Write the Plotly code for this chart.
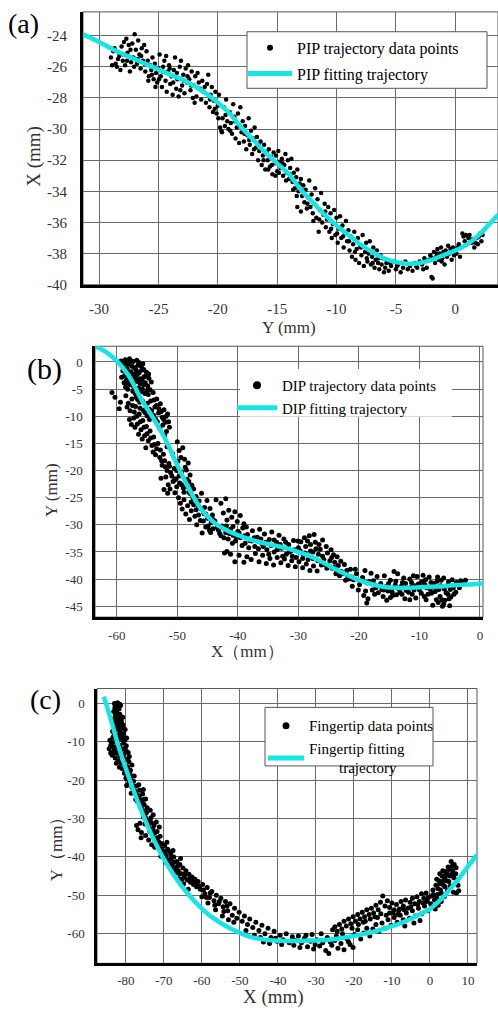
import plotly.graph_objects as go

# ---------------- data: panel (a) PIP ----------------
pip_points = [
(-29.0,-25.4),(-28.8,-25.0),(-28.6,-25.8),(-28.5,-26.0),(-28.3,-25.3),(-28.1,-24.7),(-28.0,-25.6),(-27.9,-24.4),(-27.8,-25.9),(-27.7,-24.2),
(-27.6,-25.1),(-27.5,-24.6),(-27.4,-26.3),(-27.3,-25.7),(-27.2,-24.5),(-27.1,-25.4),(-27.0,-23.9),(-26.9,-24.9),(-26.8,-25.8),(-26.7,-24.3),
(-26.6,-25.2),(-26.5,-26.1),(-26.4,-24.8),(-26.3,-25.6),(-26.2,-24.6),(-26.1,-26.3),(-26.0,-25.0),(-25.9,-25.6),(-25.8,-26.6),(-25.7,-25.9),
(-25.6,-26.2),(-25.5,-25.4),(-25.4,-26.8),(-25.3,-25.8),(-25.2,-26.4),(-25.1,-27.0),(-25.0,-26.1),(-24.9,-25.2),(-24.8,-26.6),(-24.7,-27.3),
(-24.6,-26.0),(-24.5,-25.6),(-24.4,-26.9),(-24.3,-27.6),(-24.2,-26.3),(-24.1,-25.9),(-24.0,-27.1),(-23.9,-26.6),(-23.8,-27.8),(-23.7,-26.2),
(-23.6,-25.4),(-23.5,-27.4),(-23.4,-26.8),(-23.3,-27.9),(-23.2,-26.0),(-23.1,-25.6),(-23.0,-27.2),(-22.9,-26.5),(-22.8,-27.7),(-22.7,-26.1),
(-22.6,-27.0),(-22.5,-25.9),(-22.4,-26.8),(-22.3,-27.5),(-22.2,-26.3),(-22.1,-28.0),
(-22.0,-27.2),(-21.9,-26.6),(-21.8,-27.9),(-21.7,-26.4),(-21.5,-27.4),(-21.4,-28.1),(-21.3,-26.9),(-21.2,-27.6),(-21.0,-28.3),(-20.9,-27.1),
(-20.8,-26.5),(-20.7,-28.6),(-20.6,-27.8),(-20.5,-27.3),(-20.4,-28.9),(-20.3,-28.2),(-20.2,-27.6),(-20.1,-29.0),(-20.0,-28.5),(-19.9,-27.8),
(-19.8,-29.9),(-19.7,-30.1),(-19.6,-29.3),(-19.5,-28.6),(-19.4,-29.8),(-19.3,-28.1),(-19.2,-29.5),(-19.1,-30.0),(-19.0,-28.9),(-18.9,-29.6),
(-18.8,-30.3),(-18.7,-28.4),(-18.6,-29.2),(-18.5,-30.6),(-18.4,-29.9),(-18.3,-29.0),(-18.2,-30.9),(-18.1,-28.6),(-18.0,-30.2),(-17.9,-29.5),
(-17.8,-30.8),(-17.7,-29.8),(-17.6,-31.3),(-17.5,-30.4),(-17.4,-29.3),(-17.3,-31.0),(-17.2,-30.1),(-17.1,-31.6),(-17.0,-30.6),(-16.9,-29.9),
(-16.8,-31.2),(-16.7,-30.5),(-16.6,-32.0),(-16.5,-31.4),(-16.4,-30.8),(-16.3,-32.3),(-16.2,-31.7),(-16.1,-31.0),(-16.0,-32.6),(-15.9,-31.5),
(-15.8,-32.0),(-15.7,-31.3),(-15.6,-32.4),(-15.5,-31.8),(-15.4,-32.9),(-15.3,-31.5),(-15.2,-32.2),(-15.1,-31.7),(-15.0,-32.7),(-14.9,-31.4),
(-14.8,-32.1),(-14.7,-32.5),(-14.6,-31.9),(-14.5,-33.0),(-14.4,-32.3),(-14.3,-31.6),(-14.2,-32.8),(-14.1,-32.0),(-14.0,-33.2),(-13.9,-32.5),
(-13.8,-31.9),(-13.7,-33.4),(-13.6,-32.8),(-13.5,-33.8),(-13.4,-33.1),(-13.3,-32.6),(-13.2,-34.0),(-13.1,-33.5),(-13.0,-33.2),(-12.9,-34.3),
(-12.8,-33.6),(-12.7,-34.7),(-12.6,-33.9),(-12.5,-35.1),(-12.4,-34.4),(-12.3,-33.3),(-12.2,-35.0),(-12.1,-34.2),(-12.0,-35.4),(-11.9,-34.8),
(-11.8,-33.8),(-11.7,-35.7),(-11.6,-34.5),(-11.5,-36.6),(-11.4,-35.2),(-11.3,-34.1),(-11.2,-36.0),(-11.1,-35.5),(-11.0,-34.8),(-10.9,-36.3),
(-13.3,-35.0),(-13.0,-35.3),
(-10.8,-35.8),(-10.7,-35.0),(-10.6,-36.6),(-10.5,-35.4),(-10.4,-37.0),(-10.3,-36.1),(-10.2,-35.2),(-10.1,-36.8),(-10.0,-35.7),(-9.9,-37.3),
(-9.8,-36.4),(-9.7,-35.6),(-9.6,-37.0),(-9.5,-36.2),(-9.4,-37.6),(-9.3,-36.7),(-9.2,-35.9),(-9.1,-37.2),(-9.0,-36.5),
(-8.9,-37.8),(-8.8,-36.9),(-8.7,-38.2),(-8.6,-37.4),(-8.5,-36.6),(-8.4,-38.4),(-8.3,-37.7),(-8.2,-37.0),(-8.1,-38.6),(-8.0,-37.5),
(-7.9,-38.1),(-7.8,-36.8),(-7.7,-38.8),(-7.6,-37.9),(-7.5,-37.3),(-7.4,-38.5),(-7.3,-38.0),(-7.2,-37.2),(-7.1,-38.7),(-7.0,-38.2),
(-6.9,-37.6),(-6.8,-38.9),(-6.7,-38.4),(-6.6,-37.8),(-6.5,-38.6),(-6.4,-39.0),(-6.3,-38.1),(-6.2,-38.7),(-6.1,-38.3),(-6.0,-39.2),
(-5.8,-38.6),(-5.6,-39.1),(-5.4,-38.8),(-5.2,-38.5),(-5.0,-39.0),(-4.8,-38.7),(-4.6,-39.2),(-4.4,-38.9),(-4.2,-38.5),(-4.0,-39.0),
(-3.8,-38.8),(-3.6,-39.1),(-3.4,-38.6),(-3.2,-38.9),(-3.0,-38.5),(-2.8,-38.7),(-2.6,-38.3),(-2.4,-38.9),(-2.2,-38.4),(-2.0,-39.5),(-1.9,-39.6),
(-2.1,-38.1),(-1.8,-37.9),(-1.7,-38.6),(-1.6,-38.2),(-1.5,-37.7),(-1.4,-38.4),(-1.3,-38.0),(-1.2,-37.6),(-1.1,-38.3),(-1.0,-37.9),
(-0.9,-38.7),(-0.8,-37.8),(-0.7,-38.2),(-0.6,-37.5),(-0.5,-38.0),(-0.4,-37.7),(-0.3,-38.4),(-0.2,-37.6),(-0.1,-38.1),(0.0,-37.8),(0.2,-37.6),(0.4,-38.2),
(0.6,-36.7),(0.7,-36.9),(0.8,-37.2),(0.9,-36.8),(1.0,-37.4),(1.1,-37.0),(1.2,-36.8),(1.4,-37.3),(1.5,-37.1),(1.6,-37.6),
(1.8,-37.0),(1.9,-37.4),(2.0,-36.9),(2.1,-36.7),(2.2,-37.2),
(-28.9,-25.9),(-28.7,-24.8),(-28.4,-25.5),(-28.2,-26.2),(-27.95,-25.2),(-27.65,-25.6),(-27.35,-24.9),(-27.05,-26.0),(-26.75,-25.5),(-26.45,-25.3),
(-26.15,-25.8),(-25.85,-26.9),(-25.55,-26.5),(-25.25,-27.3),(-24.95,-26.8),(-24.65,-26.3),(-24.35,-25.3),(-24.05,-26.1),(-23.75,-27.0),(-23.45,-26.4),
(-23.15,-27.5),(-22.85,-26.9),(-22.55,-26.6),(-22.25,-27.2),(-21.95,-28.3),(-21.6,-27.0),(-21.1,-27.3),(-20.65,-28.1),(-20.25,-28.7),(-19.95,-29.3),
(-19.65,-30.2),(-19.35,-29.1),(-18.95,-30.1),(-18.55,-29.5),(-18.15,-29.8),(-17.75,-30.3),(-17.35,-30.7),(-16.95,-31.3),(-16.55,-31.0),(-16.15,-32.0),
(-15.75,-32.6),(-15.45,-32.3),(-15.15,-33.0),(-14.85,-32.8),(-14.55,-32.2),(-14.25,-33.3),(-13.95,-32.9),(-13.65,-33.9),(-13.35,-34.3),(-12.95,-33.9),
(-12.45,-34.8),(-11.95,-35.9),(-11.45,-35.8),(-10.95,-35.3),(-10.45,-36.4),(-9.95,-36.7),(-9.45,-36.9),(-8.95,-37.2),(-8.45,-37.9),(-7.95,-37.6),
(-7.45,-38.3),(-6.95,-38.6),(-6.45,-38.3),(-5.9,-38.9),(-5.5,-38.6),(-4.9,-38.8),(-4.5,-38.6),(-3.9,-38.7),(-3.3,-38.8),(-2.7,-39.0),
(-1.95,-38.3),(-1.55,-38.0),(-1.15,-38.5),(-0.75,-38.0),(-0.35,-37.9),(0.1,-38.0),(0.3,-37.4),(1.3,-37.1),(1.7,-37.3),(2.3,-36.8),
]
pip_fit_x = [-31.35,-30,-28.5,-27,-25.5,-24,-22.5,-21,-20,-19,-18,-17,-16,-15,-14,-13,-12,-11,-10,-9,-8,-7,-6,-5,-4,-3,-2,-1,0,1,2,3,3.6]
pip_fit_y = [-23.9,-24.4,-25.0,-25.5,-26.0,-26.5,-27.0,-27.7,-28.3,-29.0,-29.9,-30.7,-31.5,-32.2,-32.9,-33.9,-34.7,-35.5,-36.2,-36.8,-37.4,-37.9,-38.3,-38.55,-38.65,-38.6,-38.4,-38.1,-37.8,-37.4,-36.8,-36.0,-35.5]

# ---------------- data: panel (b) DIP ----------------
dip_points = [
(-59.3,0.2),(-58.9,-0.5),(-58.6,0.4),(-58.3,-1.2),(-58.1,-0.2),(-57.9,0.6),(-57.7,-1.8),(-57.5,-0.8),(-57.3,0.1),(-57.1,-2.4),
(-56.9,-1.3),(-56.7,0.3),(-56.5,-0.6),(-56.3,-2.0),(-56.1,-3.1),(-55.9,-1.5),(-55.7,-0.3),(-55.5,-2.7),(-55.3,-3.8),(-55.1,-1.9),
(-54.9,-4.4),(-54.7,-3.0),(-54.5,-5.1),(-59.0,-1.6),(-58.7,-2.5),(-58.4,-3.3),(-58.0,-2.9),(-57.6,-3.9),(-57.2,-4.6),(-56.8,-3.6),
(-56.4,-4.8),(-56.0,-5.5),(-55.6,-4.2),(-57.8,-4.2),(-58.2,-5.0),(-58.8,-3.8),(-59.2,-2.8),(-56.6,-2.3),(-55.8,-3.3),(-54.3,-3.7),
(-60.8,-5.6),(-60.3,-6.5),(-59.6,-8.6),(-59.4,-7.4),
(-54.8,-6.0),(-54.4,-7.2),(-54.0,-5.6),(-53.7,-8.3),(-53.4,-6.8),(-53.1,-9.4),(-52.8,-7.7),(-52.5,-10.2),(-52.2,-8.8),(-51.9,-11.1),
(-51.6,-9.6),(-53.9,-9.8),(-53.3,-11.0),(-52.9,-12.2),(-52.4,-11.6),(-51.8,-12.8),(-51.3,-12.0),(-54.6,-8.7),(-53.6,-10.5),(-52.1,-13.5),
(-58.5,-6.2),(-58.1,-7.6),(-57.8,-9.0),(-57.5,-6.8),(-57.2,-10.3),(-56.9,-8.2),(-56.6,-11.4),(-56.3,-9.6),(-56.0,-12.5),(-55.7,-10.8),
(-55.4,-13.6),(-55.1,-11.9),(-54.8,-14.5),(-54.5,-12.7),(-54.2,-15.4),(-53.9,-13.8),(-57.4,-8.0),(-56.8,-6.5),(-56.2,-7.4),(-55.6,-8.9),
(-55.0,-9.9),(-54.6,-10.6),(-57.0,-12.0),(-56.4,-13.3),(-55.8,-14.2),(-55.2,-15.8),(-54.0,-16.6),(-53.6,-17.1),(-53.2,-15.0),(-52.8,-16.2),
(-52.6,-18.2),(-52.3,-17.0),(-52.0,-19.3),(-51.7,-15.6),(-51.4,-18.7),(-51.1,-20.4),(-50.8,-16.9),(-50.5,-19.6),(-50.2,-21.5),(-49.9,-18.3),
(-49.6,-22.3),(-49.3,-20.2),(-49.0,-23.2),(-48.7,-19.4),(-48.4,-21.6),(-48.1,-24.0),(-50.0,-14.7),(-49.7,-16.3),(-49.4,-17.6),(-49.1,-15.8),
(-48.8,-17.9),(-48.5,-19.9),(-48.2,-18.6),(-47.9,-20.8),(-47.6,-22.7),(-51.9,-21.2),(-51.5,-22.6),(-51.2,-23.4),(-50.7,-22.0),(-50.4,-24.1),
(-50.1,-23.0),(-49.8,-25.0),(-51.6,-24.2),(-52.2,-23.5),(-52.7,-21.4),
(-49.5,-26.0),(-49.2,-27.1),(-48.9,-25.4),(-48.6,-28.0),(-48.3,-26.5),(-48.0,-29.0),(-47.7,-27.4),(-47.4,-25.0),(-47.1,-28.4),(-46.8,-30.0),
(-46.5,-26.6),(-46.2,-29.2),(-45.9,-31.5),(-45.6,-27.9),(-45.3,-30.4),(-45.0,-28.8),(-44.7,-31.0),(-44.4,-29.6),(-44.1,-30.7),(-47.8,-24.3),
(-47.3,-23.4),(-46.9,-24.8),(-46.4,-25.6),(-46.0,-24.2),(-45.5,-26.8),(-45.1,-25.5),(-44.6,-27.0),(-44.2,-28.2),(-43.8,-29.3),(-43.4,-30.5),
(-43.0,-31.6),(-42.6,-30.2),
(-43.6,-25.4),(-42.8,-26.0),(-42.0,-25.2),(-41.5,-27.3),(-41.0,-28.6),(-40.5,-27.6),(-40.1,-29.4),(-39.6,-28.3),(-39.0,-29.8),(-38.6,-30.4),
(-42.4,-27.8),(-41.8,-29.1),(-40.8,-30.3),
(-41.8,-34.9),(-41.2,-35.4),(-40.5,-36.8),(-39.8,-35.6),(-39.0,-36.9),(-42.2,-35.2),
(-42.0,-31.4),(-41.6,-32.6),(-41.2,-30.8),(-40.8,-31.9),(-40.4,-33.0),(-40.0,-31.2),(-39.6,-32.4),(-39.2,-30.6),(-38.8,-33.4),(-38.4,-31.8),
(-38.0,-32.9),(-37.6,-31.1),(-37.2,-34.0),(-36.8,-32.3),(-36.4,-30.8),(-36.0,-33.5),(-35.6,-31.7),(-35.2,-34.6),(-34.8,-32.7),(-34.4,-31.3),
(-34.0,-35.0),(-33.6,-33.2),(-33.2,-31.9),(-32.8,-34.3),(-32.4,-32.6),(-32.0,-35.4),(-31.6,-33.6),(-31.2,-34.8),(-30.8,-32.9),(-30.4,-36.0),
(-30.0,-34.2),(-29.6,-33.1),(-29.2,-35.5),(-28.8,-34.0),(-28.4,-36.4),(-28.0,-33.6),(-27.6,-35.0),(-27.2,-33.2),(-26.8,-36.6),(-26.4,-34.5),
(-26.0,-35.8),(-25.6,-37.3),(-25.2,-35.2),(-24.8,-36.6),(-24.4,-38.0),(-24.0,-36.9),
(-38.5,-35.9),(-37.8,-36.4),(-37.1,-35.3),(-36.5,-36.8),(-35.9,-35.6),(-35.3,-37.1),(-34.7,-36.2),(-34.1,-37.4),(-33.5,-36.0),(-32.9,-37.0),
(-32.3,-36.3),(-31.7,-37.5),(-31.1,-36.6),(-30.5,-37.7),(-29.9,-36.8),(-29.3,-37.9),(-28.7,-37.2),(-28.1,-38.4),(-27.5,-37.6),(-26.9,-38.5),
(-29.0,-32.4),(-28.2,-32.0),(-27.4,-31.8),(-26.6,-33.6),(-26.0,-32.8),(-25.4,-34.0),(-24.6,-34.6),(-24.2,-35.5),(-23.6,-35.9),(-23.0,-36.7),
(-23.4,-37.5),(-22.9,-38.6),(-22.4,-37.3),(-21.9,-39.4),(-21.4,-38.2),(-20.9,-40.1),(-20.4,-39.0),(-19.9,-41.0),(-19.4,-39.7),(-18.9,-42.2),
(-18.5,-43.6),(-18.3,-40.5),(-22.2,-40.2),(-21.1,-41.3),(-20.1,-42.0),(-19.2,-43.0),(-18.7,-44.4),(-23.8,-39.0),(-20.6,-38.2),(-19.0,-38.4),(-18.0,-38.9),
(-17.6,-40.3),(-17.2,-41.6),(-16.8,-42.5),(-16.4,-40.8),(-16.0,-43.2),(-15.6,-41.4),(-15.2,-42.2),(-14.8,-40.2),(-14.4,-43.0),(-14.0,-41.1),
(-13.6,-39.0),(-13.2,-42.4),(-12.8,-40.6),(-12.4,-43.6),(-12.0,-41.7),(-11.6,-40.0),(-11.2,-42.8),(-10.8,-41.2),(-10.4,-39.5),(-10.0,-42.0),
(-9.6,-40.5),(-9.2,-43.2),(-8.8,-41.6),(-8.4,-39.6),(-8.0,-42.6),(-7.6,-40.8),(-7.2,-43.8),(-6.8,-41.9),(-6.4,-40.2),(-6.0,-44.6),
(-5.6,-42.5),(-5.2,-40.5),(-4.8,-43.3),(-4.4,-41.6),(-4.0,-42.4),(-3.6,-41.0),(-3.2,-40.3),(-2.6,-40.6),
(-17.0,-39.5),(-16.2,-41.9),(-15.4,-43.9),(-14.6,-41.8),(-13.8,-42.9),(-13.0,-41.3),(-12.2,-42.1),(-11.4,-41.5),(-10.6,-43.5),(-9.8,-41.3),
(-9.0,-40.1),(-8.2,-41.9),(-7.4,-42.3),(-6.6,-43.2),(-6.2,-45.0),(-5.8,-43.9),(-5.4,-41.2),(-5.0,-44.9),(-4.6,-40.1),(-7.8,-44.8),
(-6.9,-44.3),(-12.6,-39.8),(-11.0,-39.4),(-9.4,-39.3),(-7.0,-39.6),(-6.0,-39.8),(-15.8,-39.4),(-14.2,-38.6),(-18.6,-40.7),(-17.8,-42.0),
(-58.8,0.1),(-58.4,-0.3),(-57.95,-0.4),(-57.55,0.2),(-57.15,-1.0),(-56.75,-1.6),(-56.35,-0.1),(-55.95,-0.8),(-55.55,-1.4),(-55.15,-2.6),
(-54.75,-2.2),(-57.35,-2.2),(-56.95,-2.9),(-56.55,-3.3),(-56.15,-4.0),(-55.75,-5.0),(-55.35,-5.8),(-54.95,-5.2),(-57.75,-3.0),(-58.15,-3.9),
(-58.55,-4.6),(-57.35,-5.4),(-56.95,-5.8),(-56.55,-6.9),(-56.15,-8.5),(-55.75,-7.2),(-55.35,-9.3),(-54.95,-7.6),(-54.25,-9.0),(-53.85,-7.0),
(-53.45,-8.0),(-53.05,-8.6),(-52.65,-9.1),(-52.25,-10.6),(-51.85,-10.0),(-51.45,-11.0),
(-58.3,-8.3),(-57.9,-10.6),(-57.6,-11.5),(-57.1,-9.2),(-56.7,-10.0),(-56.1,-11.0),(-55.5,-12.0),(-55.0,-13.2),(-54.4,-14.0),(-53.8,-15.2),
(-53.4,-16.0),(-52.9,-17.6),(-52.5,-19.0),(-52.1,-18.2),(-51.7,-20.0),(-51.3,-19.2),(-50.9,-21.0),(-50.5,-21.8),(-50.1,-20.0),(-49.7,-21.0),
(-49.3,-22.6),(-48.9,-24.0),(-48.5,-23.0),(-48.1,-22.0),(-47.7,-25.8),(-47.3,-26.3),(-46.9,-27.2),(-46.5,-28.2),(-46.1,-27.0),(-45.7,-29.3),
(-45.3,-28.0),(-44.9,-30.2),(-44.5,-31.4),(-44.1,-29.0),
(-43.2,-31.0),(-42.8,-32.0),(-42.3,-32.4),(-41.9,-30.2),(-41.4,-31.6),(-40.9,-33.4),(-40.3,-32.2),(-39.8,-31.5),(-39.3,-33.8),(-38.9,-32.0),
(-38.2,-34.2),(-37.7,-33.0),(-37.3,-32.4),(-36.6,-34.4),(-36.2,-32.6),(-35.8,-34.0),(-35.4,-33.2),(-34.9,-35.4),(-34.5,-33.8),(-34.0,-32.8),
(-33.5,-34.6),(-33.0,-33.6),(-32.6,-35.8),(-32.1,-33.2),(-31.5,-35.0),(-31.0,-35.8),(-30.6,-34.6),(-30.1,-33.0),(-29.7,-34.8),(-29.3,-36.2),
(-28.9,-35.2),(-28.5,-33.0),(-28.0,-34.8),(-27.6,-36.2),(-27.1,-34.4),(-26.7,-35.4),(-26.2,-37.4),(-25.8,-36.4),(-25.3,-38.0),(-24.9,-37.6),
(-24.5,-36.0),(-24.1,-37.8),(-23.7,-38.4),(-23.2,-39.4),(-22.7,-39.0),(-22.0,-38.4),(-21.6,-40.0),(-21.2,-39.6),
(-17.4,-42.8),(-16.6,-41.2),(-15.9,-42.0),(-15.1,-40.8),(-14.5,-42.4),(-13.9,-40.4),(-13.4,-41.8),(-12.9,-42.8),(-12.3,-40.8),(-11.8,-42.4),
(-11.3,-40.6),(-10.9,-42.0),(-10.2,-40.9),(-9.7,-42.6),(-9.1,-41.0),(-8.6,-42.8),(-8.1,-40.6),(-7.5,-41.4),(-7.1,-40.4),(-6.5,-41.2),
(-5.9,-41.8),(-5.3,-42.8),(-4.9,-41.9),(-4.3,-42.8),(-3.9,-40.6),(-3.4,-41.6),(-6.3,-43.8),(-5.1,-43.6),(-8.9,-43.8),(-11.6,-43.8),
(-14.8,-43.4),(-2.4,-40.2),
]
dip_fit_x = [-63.6,-62,-60,-58,-56,-54,-52,-50,-48,-46,-44,-42,-40,-38,-36,-34,-32,-30,-28,-26,-24,-22,-20,-18,-16,-14,-12,-10,-8,-6,-4,-2,0.5]
dip_fit_y = [2.9,2.0,0.2,-2.6,-6.8,-10.3,-14.2,-19.0,-23.5,-27.2,-29.5,-30.9,-31.9,-32.7,-33.3,-33.8,-34.3,-35.0,-35.8,-36.9,-38.1,-39.2,-40.2,-40.9,-41.4,-41.6,-41.6,-41.5,-41.4,-41.3,-41.1,-41.0,-40.8]

# ---------------- data: panel (c) fingertip ----------------
tip_points = [
(-83.0,0.0),(-82.6,-0.8),(-82.2,0.2),(-81.8,-1.4),(-81.4,-0.5),(-83.2,-2.1),(-82.8,-3.0),(-82.4,-2.4),(-82.0,-3.8),(-81.6,-2.8),
(-81.2,-4.5),(-80.8,-3.6),(-83.4,-5.2),(-83.0,-6.0),(-82.6,-5.5),(-82.2,-6.8),(-81.8,-5.9),(-81.4,-7.4),(-81.0,-6.3),(-80.6,-7.9),
(-80.2,-6.8),(-84.2,-9.6),(-83.8,-10.4),(-83.4,-8.8),(-83.0,-9.9),(-82.6,-11.3),(-82.2,-8.4),(-81.8,-10.8),(-81.4,-9.3),(-81.0,-12.0),
(-80.6,-10.2),(-80.2,-11.6),(-79.8,-9.0),(-79.4,-12.8),(-84.4,-11.8),(-84.0,-12.9),(-83.6,-13.5),(-83.2,-12.4),(-82.8,-14.2),(-82.4,-13.0),
(-82.0,-15.0),(-81.6,-13.8),(-81.2,-15.5),(-80.8,-14.2),(-80.4,-16.0),(-80.0,-14.6),(-79.6,-16.5),(-79.2,-15.2),(-78.8,-17.4),(-78.4,-16.0),
(-82.9,-1.2),(-81.5,-3.3),
(-80.4,-18.2),(-80.0,-19.4),(-79.6,-18.0),(-79.2,-20.6),(-78.8,-19.2),(-78.4,-21.8),(-78.0,-20.3),(-77.6,-22.9),(-77.2,-21.5),(-76.8,-24.0),
(-76.4,-22.6),(-76.0,-25.2),(-75.6,-23.6),(-75.2,-26.3),(-74.8,-24.9),(-74.4,-27.2),(-79.8,-21.4),(-78.6,-23.4),(-77.4,-25.0),(-76.2,-27.0),
(-75.0,-28.2),(-77.8,-18.9),(-76.6,-21.2),(-75.4,-22.4),
(-77.2,-31.8),(-76.8,-32.9),(-76.3,-31.2),(-75.9,-33.6),(-75.4,-29.6),(-75.0,-31.4),(-74.6,-28.5),(-74.2,-30.6),(-73.8,-32.4),(-73.4,-29.8),
(-73.0,-34.0),(-72.6,-31.8),(-72.2,-35.2),(-71.8,-33.4),(-71.4,-36.0),(-71.0,-34.6),(-74.8,-34.4),(-74.0,-35.6),(-73.2,-36.8),(-72.4,-37.5),
(-76.0,-35.0),(-73.6,-27.8),(-72.8,-29.0),(-72.0,-30.9),(-71.2,-32.2),
(-70.6,-36.5),(-70.2,-38.4),(-69.8,-37.0),(-69.4,-39.6),(-69.0,-38.0),(-68.6,-40.8),(-68.2,-39.2),(-67.8,-41.8),(-67.4,-40.0),(-67.0,-42.8),
(-66.6,-41.2),(-66.2,-43.6),(-65.8,-42.0),(-65.4,-44.4),(-65.0,-42.9),(-64.6,-45.2),(-64.2,-43.6),(-63.8,-46.0),(-63.4,-44.5),(-63.0,-46.6),
(-62.6,-45.2),(-62.2,-47.2),(-61.8,-45.8),(-61.4,-47.8),(-70.8,-39.8),(-69.6,-41.4),(-68.4,-42.6),(-67.2,-44.4),(-66.0,-45.6),(-64.8,-47.0),
(-63.6,-48.4),(-69.2,-36.2),(-67.6,-38.3),(-65.6,-40.4),
(-61.0,-46.4),(-60.4,-48.4),(-59.8,-47.2),(-59.2,-49.6),(-58.6,-48.0),(-58.0,-50.6),(-57.4,-49.0),(-56.8,-51.4),(-56.2,-50.0),(-55.6,-52.2),
(-55.0,-50.8),(-54.4,-53.0),(-53.8,-51.6),(-53.2,-54.0),(-52.6,-52.2),(-52.0,-55.2),(-51.4,-53.4),(-50.8,-56.0),(-50.2,-54.4),(-60.0,-50.4),
(-58.4,-52.0),(-56.4,-53.8),(-54.6,-55.4),(-53.0,-56.4),(-51.6,-57.0),
(-49.4,-56.8),(-48.8,-55.4),(-48.0,-57.6),(-47.4,-56.2),(-46.6,-58.4),(-45.8,-57.0),(-45.0,-59.2),(-44.2,-57.8),(-43.4,-60.0),(-42.6,-58.6),
(-41.8,-61.0),(-41.0,-59.4),(-40.2,-62.0),(-39.4,-60.4),(-38.6,-61.6),(-37.8,-60.0),(-37.0,-62.4),(-43.8,-62.2),(-42.2,-62.6),(-40.6,-61.2),
(-39.0,-62.8),(-46.2,-60.4),(-44.6,-61.0),(-48.4,-59.2),
(-36.2,-60.8),(-35.4,-61.8),(-34.6,-60.6),(-33.8,-62.4),(-33.0,-61.2),(-32.2,-63.4),(-31.4,-62.0),(-30.6,-64.0),(-29.8,-61.6),(-29.0,-63.2),
(-28.2,-62.4),(-27.4,-64.4),(-26.6,-65.2),(-25.8,-63.0),(-25.0,-61.8),(-24.2,-63.8),(-23.4,-62.6),(-22.6,-64.2),(-21.8,-61.4),(-21.0,-62.8),
(-20.2,-63.6),(-35.8,-63.0),(-34.2,-63.6),(-32.6,-60.4),(-31.0,-60.2),(-28.6,-60.0),(-27.0,-61.0),(-30.2,-62.8),(-26.2,-62.2),(-24.6,-60.6),(-23.0,-60.0),
(-25.6,-59.0),(-25.0,-58.2),(-24.4,-59.4),(-23.8,-57.6),(-23.2,-58.8),(-22.6,-56.8),(-22.0,-58.0),(-21.4,-56.2),(-20.8,-57.4),(-20.2,-55.6),
(-19.6,-56.8),(-19.0,-55.0),(-18.4,-56.2),(-17.8,-54.4),(-17.2,-55.6),(-16.6,-53.8),(-16.0,-55.0),(-15.4,-53.4),(-14.8,-54.6),(-14.2,-52.6),
(-13.6,-53.8),(-13.0,-51.8),(-12.4,-50.2),(-11.8,-52.8),(-11.2,-51.4),(-10.6,-53.2),(-10.0,-52.0),(-9.4,-53.8),(-8.8,-52.4),(-8.2,-54.0),
(-7.6,-51.6),(-7.0,-52.8),(-6.4,-51.2),(-5.8,-53.4),(-5.2,-51.8),(-4.6,-50.8),(-4.0,-52.2),(-3.4,-50.4),(-2.8,-51.6),(-2.2,-49.6),
(-1.6,-50.8),(-1.0,-49.4),(-0.4,-50.6),
(-19.8,-60.2),(-19.0,-59.0),(-18.2,-61.4),(-17.4,-59.8),(-16.6,-58.6),(-15.8,-60.6),(-15.0,-58.8),(-14.2,-57.6),(-13.4,-59.4),(-12.6,-57.2),
(-11.8,-58.6),(-11.0,-56.4),(-10.2,-57.8),(-9.4,-55.8),(-8.6,-57.0),(-7.8,-55.2),(-7.0,-56.4),(-6.2,-54.6),(-5.4,-56.0),(-4.6,-54.0),
(-3.8,-55.4),(-3.0,-53.4),(-2.2,-54.8),(-1.4,-52.8),(-0.6,-54.0),(0.2,-52.2),(-17.0,-56.8),(-13.8,-55.8),(-10.6,-54.6),(-8.0,-53.6),
(-6.6,-58.0),(-4.2,-57.2),(-2.6,-56.6),(-21.4,-62.2),(-22.8,-61.0),
(0.4,-50.2),(0.8,-48.6),(1.2,-51.2),(1.6,-47.4),(2.0,-49.8),(2.4,-46.2),(2.8,-48.6),(3.2,-45.0),(3.6,-47.4),(4.0,-43.8),
(4.4,-46.2),(4.8,-42.6),(5.2,-45.0),(5.6,-41.2),(6.0,-43.6),(6.4,-42.0),(6.8,-44.4),(7.2,-46.0),(7.6,-48.8),(6.2,-49.2),
(5.4,-47.6),(4.6,-48.8),(3.8,-50.4),(3.0,-51.6),(2.2,-52.6),(1.4,-53.6),(0.6,-52.8),(5.8,-42.4),(4.2,-44.8),(3.4,-43.6),
(2.6,-44.4),(6.6,-47.0),(7.0,-49.4),(1.8,-45.8),
(-82.8,-0.5),(-82.4,-1.6),(-82.0,-1.2),(-81.6,-0.2),(-83.1,-4.0),(-82.7,-4.6),(-82.3,-5.0),(-81.9,-4.2),(-81.5,-5.4),(-81.1,-5.2),
(-80.7,-5.6),(-83.5,-7.2),(-83.1,-7.8),(-82.7,-8.0),(-82.3,-9.6),(-81.9,-8.2),(-81.5,-11.0),(-81.1,-8.6),(-80.7,-9.0),(-80.3,-9.6),
(-79.9,-11.0),(-84.0,-11.0),(-83.4,-11.2),(-82.9,-12.8),(-82.5,-15.6),(-82.1,-12.0),(-81.7,-16.6),(-81.3,-13.4),(-80.9,-17.0),(-80.5,-13.2),
(-79.9,-12.4),(-79.5,-14.4),(-79.1,-13.8),
(-80.1,-17.6),(-79.7,-19.6),(-79.3,-17.2),(-78.9,-18.4),(-78.5,-20.2),(-78.1,-23.0),(-77.7,-21.6),(-77.3,-23.6),(-76.9,-25.6),(-76.5,-24.4),
(-76.1,-26.0),(-75.7,-27.6),(-75.3,-25.0),(-74.9,-29.6),(-74.5,-30.2),(-74.1,-32.0),(-73.7,-33.4),(-73.3,-31.0),(-72.9,-32.8),(-72.5,-33.8),
(-72.1,-36.2),(-71.7,-35.0),(-71.3,-37.2),(-70.9,-37.8),(-70.5,-38.0),(-70.1,-40.0),(-69.7,-38.8),(-69.3,-40.6),(-68.9,-41.6),(-68.5,-38.6),
(-68.1,-40.4),(-67.7,-43.0),(-67.3,-41.4),(-66.9,-43.6),(-66.4,-42.4),(-65.9,-44.4),(-65.2,-45.8),(-64.4,-44.4),(-63.2,-45.6),(-62.4,-46.2),
(-61.6,-46.8),(-60.8,-47.6),(-59.6,-48.6),(-58.8,-50.6),(-57.8,-49.4),(-56.6,-52.6),(-55.4,-51.6),(-54.2,-54.2),(-53.4,-52.8),
(0.9,-49.8),(1.5,-50.2),(2.1,-48.2),(2.7,-47.0),(3.3,-46.4),(3.9,-45.6),(4.5,-44.0),(5.1,-43.2),(5.7,-44.6),(6.3,-45.4),
(6.9,-42.8),(7.4,-47.4),(5.0,-46.4),(4.0,-47.8),(3.0,-49.4),(2.0,-51.0),
(-20.5,-58.6),(-18.8,-57.6),(-17.5,-57.0),(-15.7,-56.2),(-14.5,-55.6),(-12.9,-54.8),(-11.5,-55.2),(-9.7,-54.6),(-8.5,-55.0),(-6.8,-53.8),
(-5.0,-53.0),(-3.2,-52.4),(-1.8,-52.0),(-0.8,-51.6),
]
tip_fit_x = [-85.8,-84,-82,-80,-78,-76,-74,-72,-70,-68,-65,-62,-59,-56,-53,-50,-47,-44,-41,-38,-35,-32,-29,-26,-23,-20,-17,-14,-11,-8,-5,-2,0,2,4,6,8,10,12.4]
tip_fit_y = [1.8,-4.0,-11.0,-17.0,-22.6,-27.8,-32.6,-36.8,-40.6,-43.8,-48.0,-51.5,-54.4,-56.6,-58.4,-59.8,-60.9,-61.5,-61.8,-61.9,-61.9,-61.8,-61.7,-61.5,-61.1,-60.6,-60.0,-59.3,-58.4,-57.4,-56.1,-54.6,-53.6,-51.9,-49.9,-47.6,-45.2,-42.5,-39.5]

# tick values
a_xticks = [-30, -25, -20, -15, -10, -5, 0]
a_yticks = [-40, -38, -36, -34, -32, -30, -28, -26, -24]
b_xticks = [-60, -50, -40, -30, -20, -10, 0]
b_yticks = [0, -5, -10, -15, -20, -25, -30, -35, -40, -45]
c_xticks = [-80, -70, -60, -50, -40, -30, -20, -10, 0, 10]
c_yticks = [0, -10, -20, -30, -40, -50, -60]

# ---------------- figure ----------------
W, H = 498, 1018
CYAN = "#14e6e6"
SERIF = "Liberation Serif, Times New Roman, serif"
def PX(x): return x / W
def PY(y): return 1 - y / H

fig = go.Figure()

def add_panel(points, fx, fy, xa, ya, leg, name_pts, name_fit, msize, legsize):
    fig.add_trace(go.Scatter(x=[p[0] for p in points], y=[p[1] for p in points], mode="markers",
                             marker=dict(color="black", size=msize), xaxis=xa, yaxis=ya,
                             showlegend=False, hoverinfo="skip"))
    fig.add_trace(go.Scatter(x=fx, y=fy, mode="lines", line=dict(color=CYAN, width=4.5, shape="spline"),
                             xaxis=xa, yaxis=ya, showlegend=False, hoverinfo="skip"))
    fig.add_trace(go.Scatter(x=[None], y=[None], mode="markers", marker=dict(color="black", size=legsize),
                             name=name_pts, legend=leg, legendgroup=leg + "a", xaxis=xa, yaxis=ya))
    fig.add_trace(go.Scatter(x=[None], y=[None], mode="lines", line=dict(color=CYAN, width=5),
                             name=name_fit, legend=leg, legendgroup=leg + "b", xaxis=xa, yaxis=ya))

add_panel(pip_points, pip_fit_x, pip_fit_y, "x", "y", "legend",
          "PIP trajectory data points", "PIP fitting trajectory", 4.5, 6)
add_panel(dip_points, dip_fit_x, dip_fit_y, "x2", "y2", "legend2",
          "DIP trajectory data points", "DIP fitting trajectory", 5, 8)
add_panel(tip_points, tip_fit_x, tip_fit_y, "x3", "y3", "legend3",
          "Fingertip data points", "Fingertip fitting<br>\u00a0\u00a0\u00a0\u00a0\u00a0\u00a0\u00a0\u00a0trajectory", 5, 7)

def ax(domain, rng, ticks, size, standoff, anchor):
    return dict(domain=domain, range=rng, tickvals=ticks, ticktext=[str(t) for t in ticks],
                showgrid=True, gridcolor="#6a6a6a", gridwidth=1,
                zeroline=False, showline=True, linecolor="black", linewidth=2.5, ticks="",
                tickfont=dict(family=SERIF, size=size, color="#333333"), ticklabelstandoff=standoff,
                anchor=anchor, fixedrange=True)

layout = dict(width=W, height=H, margin=dict(l=0, r=0, t=0, b=0), paper_bgcolor="white", plot_bgcolor="white",
              showlegend=True)
layout["xaxis"] = ax([PX(83), 1.0], [-31.35, 3.6], a_xticks, 15, 8, "y")
layout["yaxis"] = ax([PY(287), PY(12)], [-40, -22.47], a_yticks, 15, 10, "x")
layout["xaxis2"] = ax([PX(95), PX(483)], [-63.6, 0.5], b_xticks, 13, 5, "y2")
layout["yaxis2"] = ax([PY(622), PY(349)], [-47.0, 2.9], b_yticks, 13, 7, "x2")
layout["xaxis3"] = ax([PX(97), PX(477)], [-87.6, 12.4], c_xticks, 13, 3, "y3")
layout["yaxis3"] = ax([PY(971), PY(694)], [-67.75, 3.9], c_yticks, 13, 7, "x3")
layout["xaxis"]["linewidth"] = 3
layout["yaxis"]["linewidth"] = 3

legfont = dict(family=SERIF, color="black")
layout["legend"] = dict(x=PX(243), y=PY(31), xanchor="left", yanchor="top", bgcolor="rgba(0,0,0,0)",
                        font=dict(size=16, **legfont), tracegroupgap=2, itemwidth=44)
layout["legend2"] = dict(x=PX(232), y=PY(372), xanchor="left", yanchor="top", bgcolor="rgba(0,0,0,0)",
                         font=dict(size=15, **legfont), tracegroupgap=0, itemwidth=40)
layout["legend3"] = dict(x=PX(263), y=PY(715), xanchor="left", yanchor="top", bgcolor="rgba(0,0,0,0)",
                         font=dict(size=15, **legfont), tracegroupgap=0, itemwidth=36, valign="middle")

shapes = []
for xa, ya in (("x", "y"), ("x2", "y2"), ("x3", "y3")):
    shapes.append(dict(type="rect", xref=xa + " domain", yref=ya + " domain", x0=0, x1=1, y0=0, y1=1,
                       line=dict(color="#555555", width=1), layer="below"))
# legend boxes
shapes.append(dict(type="rect", xref="paper", yref="paper", x0=PX(247), x1=PX(487), y0=PY(89), y1=PY(32),
                   fillcolor="white", line=dict(color="#555555", width=1), layer="above"))
shapes.append(dict(type="rect", xref="paper", yref="paper", x0=PX(240), x1=PX(452), y0=PY(420), y1=PY(372),
                   fillcolor="white", line=dict(width=0), layer="above"))
shapes.append(dict(type="rect", xref="paper", yref="paper", x0=PX(265), x1=PX(433), y0=PY(772), y1=PY(713),
                   fillcolor="white", line=dict(color="#555555", width=1), layer="above"))
layout["shapes"] = shapes

def ann(text, x, y, size, angle=0, color="#333333"):
    return dict(text=text, x=PX(x), y=PY(y), xref="paper", yref="paper", showarrow=False,
                xanchor="center", yanchor="middle", textangle=angle,
                font=dict(family=SERIF, size=size, color=color))

layout["annotations"] = [
    ann("(a)", 23, 24, 28, color="black"),
    ann("(b)", 44, 372, 30, color="black"),
    ann("(c)", 45, 705, 28, color="black"),
    ann("Y (mm)", 289, 330, 17),
    ann("X (mm)", 34, 158, 19, -90),
    ann("X\uff08mm\uff09", 247, 657, 17),
    ann("Y (mm)", 51, 494, 17, -90),
    ann("X (mm)", 273, 1005, 19),
    ann("Y\uff08mm\uff09", 56, 852, 17, -90),
]

fig.update_layout(**layout)
fig.write_html("out.html")
